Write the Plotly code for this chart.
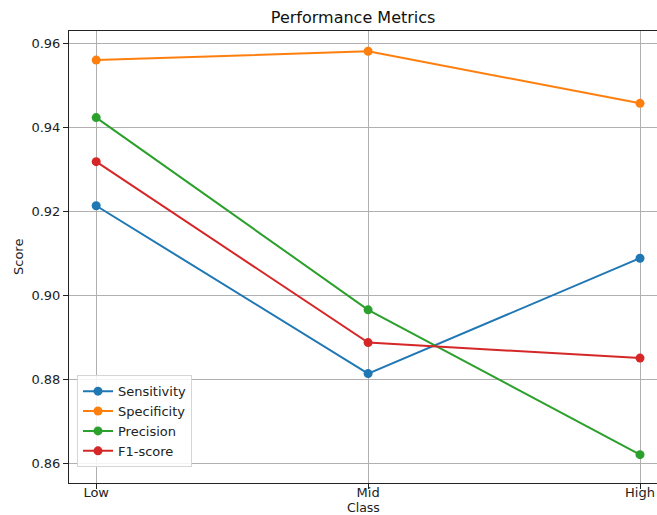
import plotly.graph_objects as go

classes = ["Low", "Mid", "High"]
sensitivity = [0.9213, 0.8813, 0.9088]
specificity = [0.9560, 0.9581, 0.9457]
precision = [0.9423, 0.8965, 0.8620]
f1_score = [0.9318, 0.8887, 0.8850]

series = [
    ("Sensitivity", sensitivity, "#1f77b4"),
    ("Specificity", specificity, "#ff7f0e"),
    ("Precision", precision, "#2ca02c"),
    ("F1-score", f1_score, "#d62728"),
]

fig = go.Figure()
for name, vals, color in series:
    fig.add_trace(go.Scatter(
        x=list(range(len(classes))), y=vals, name=name,
        mode="lines+markers",
        line=dict(color=color, width=2),
        marker=dict(color=color, size=9),
    ))

font_family = "DejaVu Sans"
fig.update_layout(
    width=657, height=515,
    margin=dict(l=69, r=0, t=31, b=32),
    paper_bgcolor="white", plot_bgcolor="white",
    font=dict(family=font_family, size=13, color="#222"),
    title=dict(text="Performance Metrics", x=0.5375, xanchor="center",
               y=1 - 17 / 515, yanchor="middle",
               font=dict(size=16, color="#111")),
    showlegend=True,
    legend=dict(
        x=0.0136, y=0.035, xanchor="left", yanchor="bottom",
        bgcolor="rgba(255,255,255,0.85)", bordercolor="#d5d5d5", borderwidth=1,
        font=dict(size=13, color="#222"), tracegroupgap=0, itemwidth=30,
    ),
    annotations=[
        dict(text="Class", xref="paper", yref="paper", x=0.5, y=-(507.5 - 483) / 452,
             xanchor="center", yanchor="middle", showarrow=False,
             font=dict(size=12.5, color="#222")),
        dict(text="Score", xref="paper", yref="paper", x=-(69 - 18) / 588, y=0.5,
             xanchor="center", yanchor="middle", textangle=-90, showarrow=False,
             font=dict(size=13, color="#222")),
    ],
)
fig.update_xaxes(
    range=[-0.1, 2.0625],
    tickmode="array", tickvals=list(range(len(classes))), ticktext=classes,
    showgrid=True, gridcolor="#b0b0b0", gridwidth=1,
    showline=True, linecolor="#222", linewidth=1, mirror=True,
    ticks="outside", ticklen=5, tickcolor="#222", ticklabelstandoff=-8,
    zeroline=False, automargin=False,
)
fig.update_yaxes(
    range=[0.85524, 0.96293],
    tickmode="linear", tick0=0.86, dtick=0.02, tickformat=".2f",
    showgrid=True, gridcolor="#b0b0b0", gridwidth=1,
    showline=True, linecolor="#222", linewidth=1,
    ticks="outside", ticklen=5, tickcolor="#222",
    zeroline=False, automargin=False,
)

fig.write_html("out.html")
